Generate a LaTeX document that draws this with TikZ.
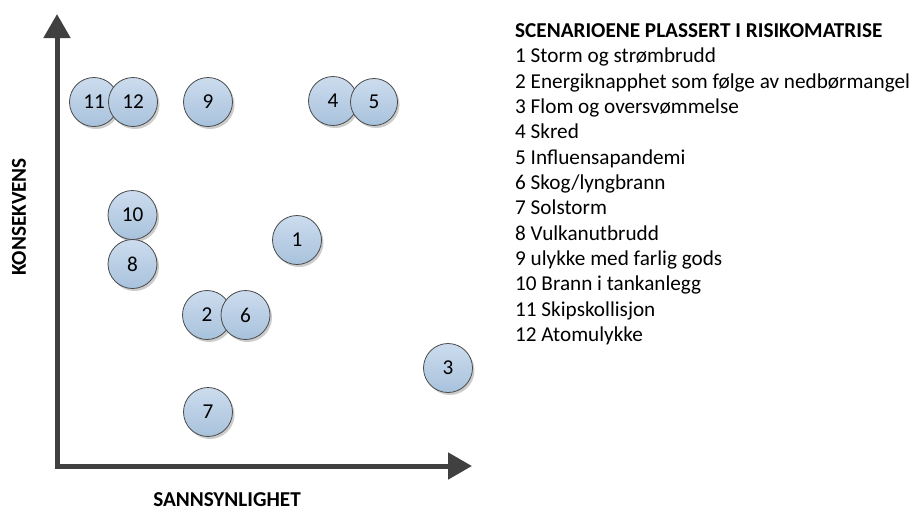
\documentclass[tikz,border=0pt]{standalone}
\usepackage{fontspec}
\setmainfont{Carlito}
\usetikzlibrary{arrows.meta,shadows}
\definecolor{axisgray}{HTML}{404040}
\definecolor{bubbletop}{HTML}{CCDCEE}
\definecolor{bubblebot}{HTML}{A8C2DC}
\definecolor{bubbleedge}{HTML}{4A4A4A}
\newcommand{\riskfont}{\fontsize{21.2}{25.3}\selectfont}
\tikzset{
  bubble/.style={circle, minimum size=49pt, inner sep=0pt, draw=bubbleedge, line width=0.8pt,
    top color=bubbletop, bottom color=bubblebot,
    drop shadow={shadow xshift=2pt, shadow yshift=-2.5pt, opacity=0.2, fill=black}},
  axisline/.style={draw=axisgray, line width=5pt, line join=miter,
    {Triangle[length=24pt,width=26pt]}-{Triangle[length=24pt,width=26pt]}},
  axislabel/.style={font=\riskfont\bfseries, inner sep=1pt},
  legendline/.style={anchor=base west, inner sep=0pt}
}
\begin{document}
\begin{tikzpicture}[x=1pt, y=-1pt, font=\riskfont]
			\useasboundingbox (0,0) rectangle (916,512);
			% axes
			\coordinate (ytip) at (57,14);
			\coordinate (origin) at (57,466);
			\coordinate (xtip) at (472,466);
			\draw[axisline] (ytip) -- (origin) -- (xtip);
			\node[axislabel, rotate=90] (ylabel) at (19,217) {KONSEKVENS};
			\node[axislabel] (xlabel) at (227,500) {SANNSYNLIGHET};
			% scenarios
			\node[bubble] (s1) at (297,240) {1};
			\node[bubble] (s2) at (207,315) {2};
			\node[bubble] (s3) at (448,368) {3};
			\node[bubble] (s4) at (333,101) {4};
			\node[bubble, minimum size=47pt] (s5) at (374,102) {5};
			\node[bubble] (s6) at (245.5,315) {6};
			\node[bubble] (s7) at (208,412) {7};
			\node[bubble] (s10) at (132.5,215) {10};
			\node[bubble] (s8) at (132.5,264) {8};
			\node[bubble] (s9) at (208,102) {9};
			\node[bubble] (s11) at (94,102) {11};
			\node[bubble] (s12) at (133,102) {12};
			% legend
			\node[legendline, font=\riskfont\bfseries] (leg0) at (515,37.5) {SCENARIOENE PLASSERT I RISIKOMATRISE};
			\foreach \txt [count=\i] in {1 Storm og strømbrudd, 2 Energiknapphet som følge av nedbørmangel,
				3 Flom og oversvømmelse, 4 Skred, 5 Influensapandemi, 6 Skog/lyngbrann, 7 Solstorm,
				8 Vulkanutbrudd, 9 ulykke med farlig gods, 10 Brann i tankanlegg, 11 Skipskollisjon, 12 Atomulykke}
				\node[legendline] (leg\i) at (515,37.5+25.33*\i) {\txt};
		\end{tikzpicture}
\end{document}
